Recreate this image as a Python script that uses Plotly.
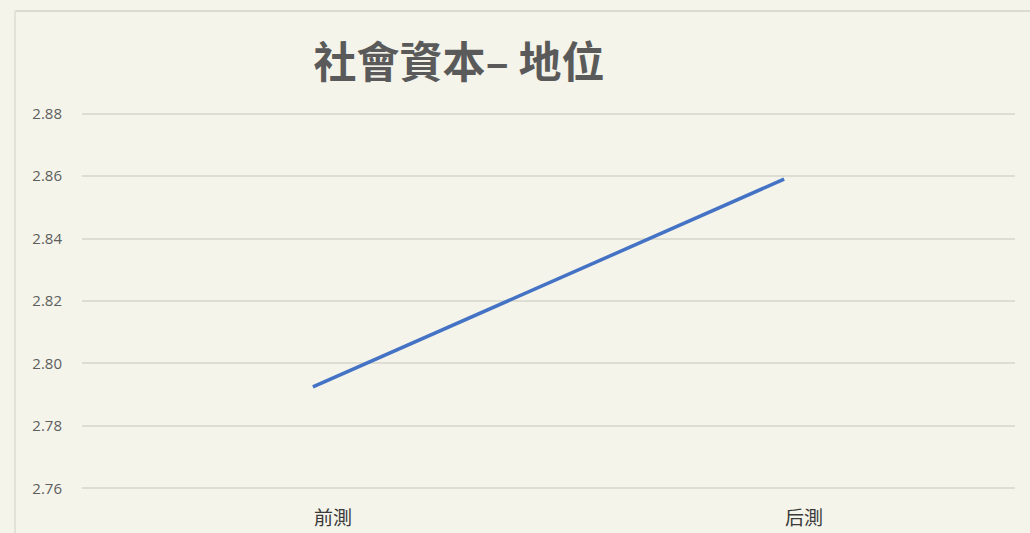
import plotly.graph_objects as go

categories = ["前測", "后測"]
values = [2.7925, 2.859]
y_ticks = [2.76, 2.78, 2.80, 2.82, 2.84, 2.86, 2.88]
title_text = "社會資本– 地位"

W, H = 1030, 533
L, R, T, B = 82, 15, 112, 43

fig = go.Figure()
fig.add_trace(go.Scatter(
    x=[0, 1], y=values, mode="lines",
    line=dict(color="#4472C4", width=3.5),
    hoverinfo="skip", showlegend=False,
))

pw = W - L - R
ph = H - T - B

fig.update_layout(
    width=W, height=H,
    margin=dict(l=L, r=R, t=T, b=B, autoexpand=False),
    paper_bgcolor="#F4F4EA",
    plot_bgcolor="#F4F4EA",
    title=dict(
        text=title_text,
        x=459 / W, xanchor="center",
        y=1 - 63 / H, yanchor="middle",
        font=dict(family="Noto Sans CJK TC", size=43, color="#5A5A5A", weight="bold"),
    ),
    xaxis=dict(
        range=[-0.49, 1.49],
        tickmode="array", tickvals=[0, 1], ticktext=categories,
        showgrid=False, zeroline=False, showline=False, automargin=False,
        ticks="", ticklabelstandoff=15, ticklabelshift=20,
        tickfont=dict(family="Noto Sans CJK TC", size=19, color="#3A3A3A"),
    ),
    yaxis=dict(
        range=[2.7595, 2.8805],
        tickmode="array", tickvals=y_ticks,
        ticktext=[f"{v:.2f}" for v in y_ticks],
        showgrid=True, gridcolor="#DDDDD3", gridwidth=1.5,
        zeroline=False, showline=False, ticks="", automargin=False,
        ticklabelstandoff=19,
        tickfont=dict(family="Open Sans", size=15, color="#5E5E5E"),
    ),
    shapes=[
        dict(type="line", xref="paper", yref="paper",
             x0=-(L - 15) / pw, x1=1 + R / pw,
             y0=1 + (T - 11) / ph, y1=1 + (T - 11) / ph,
             line=dict(color="#DADAD0", width=2)),
        dict(type="line", xref="paper", yref="paper",
             x0=-(L - 15) / pw, x1=-(L - 15) / pw,
             y0=-B / ph, y1=1 + (T - 11) / ph,
             line=dict(color="#E2E2D8", width=2)),
    ],
)

fig.write_html("out.html")
